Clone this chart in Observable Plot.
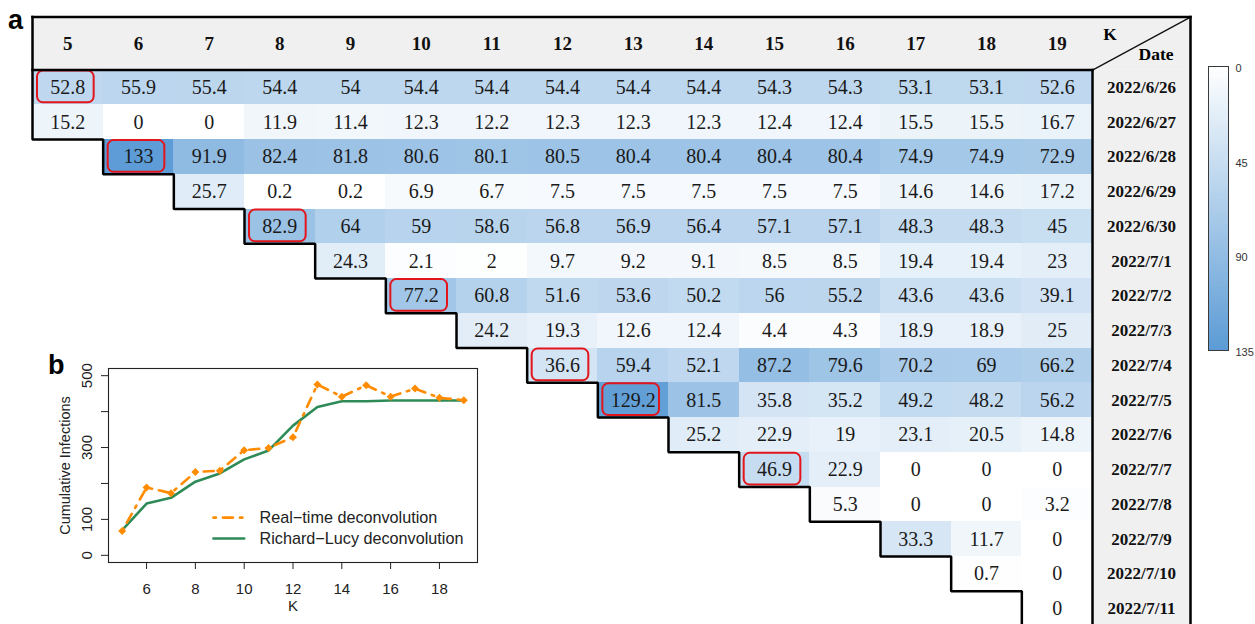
<!DOCTYPE html>
<html><head><meta charset="utf-8">
<script src="https://cdn.jsdelivr.net/npm/d3@7"></script>
<script src="https://cdn.jsdelivr.net/npm/@observablehq/plot@0.6"></script>
<style>
body{margin:0;background:#fff;}
#wrap{position:relative;width:1255px;height:624px;overflow:hidden;}
.abs{position:absolute;}
.panel{position:absolute;font:bold 27px "Liberation Sans",Arial,sans-serif;line-height:1;color:#000;}
</style></head><body>
<div id="wrap">
  <div id="main" class="abs" style="left:0;top:0"></div>
  <div id="inset" class="abs" style="left:40px;top:340px"></div>
  <div id="legend" class="abs" style="left:1195px;top:50px"></div>
  <div class="panel" style="left:8px;top:7px">a</div>
  <div class="panel" style="left:48px;top:352px">b</div>
</div>
<script>
// ---------- data ----------
const kValues = [5,6,7,8,9,10,11,12,13,14,15,16,17,18,19];
const dates = ["2022/6/26","2022/6/27","2022/6/28","2022/6/29","2022/6/30","2022/7/1","2022/7/2","2022/7/3",
               "2022/7/4","2022/7/5","2022/7/6","2022/7/7","2022/7/8","2022/7/9","2022/7/10","2022/7/11"];
const rowFirstK = [5,5,6,7,8,9,10,11,12,13,14,15,16,17,18,19];
const cellValues = [
  [52.8,55.9,55.4,54.4,54,54.4,54.4,54.4,54.4,54.4,54.3,54.3,53.1,53.1,52.6],
  [15.2,0,0,11.9,11.4,12.3,12.2,12.3,12.3,12.3,12.4,12.4,15.5,15.5,16.7],
  [133,91.9,82.4,81.8,80.6,80.1,80.5,80.4,80.4,80.4,80.4,74.9,74.9,72.9],
  [25.7,0.2,0.2,6.9,6.7,7.5,7.5,7.5,7.5,7.5,14.6,14.6,17.2],
  [82.9,64,59,58.6,56.8,56.9,56.4,57.1,57.1,48.3,48.3,45],
  [24.3,2.1,2,9.7,9.2,9.1,8.5,8.5,19.4,19.4,23],
  [77.2,60.8,51.6,53.6,50.2,56,55.2,43.6,43.6,39.1],
  [24.2,19.3,12.6,12.4,4.4,4.3,18.9,18.9,25],
  [36.6,59.4,52.1,87.2,79.6,70.2,69,66.2],
  [129.2,81.5,35.8,35.2,49.2,48.2,56.2],
  [25.2,22.9,19,23.1,20.5,14.8],
  [46.9,22.9,0,0,0],
  [5.3,0,0,3.2],
  [33.3,11.7,0],
  [0.7,0],
  [0]
];
const highlightK = [5,6,8,10,12,13,15];
const highlightDate = ["2022/6/26","2022/6/28","2022/6/30","2022/7/2","2022/7/4","2022/7/5","2022/7/7"];
const colorTicks = [0,45,90,135];

const insetK = [5,6,7,8,9,10,11,12,13,14,15,16,17,18,19];
const realTime = [68,188.9,173,231.8,235.7,292.5,299,328.7,475.5,441.5,473.4,441.7,464.1,438.4,431.9];
const richardLucy = [70,144,160,205,228,267,292,361,413,429,429,431,431,431,431];
const insetXTicks = [6,8,10,12,14,16,18];
const insetYTicks = [0,100,200,300,400,500];
const insetYLabels = [0,100,300,500];
const seriesNames = ["Real\u2212time deconvolution","Richard\u2212Lucy deconvolution"];

// ---------- derived tables ----------
const colOf = k => kValues.indexOf(k);
const cells = [];
cellValues.forEach((row, r) => row.forEach((v, j) => cells.push({r, c: colOf(rowFirstK[r]) + j, v})));
const highlights = highlightK.map((k, i) => ({c: colOf(k), r: dates.indexOf(highlightDate[i])}));

const H = 53/34.75;      // header height (row units)
const DW = 98/70.667;    // date column width (column units)
const nR = dates.length, nC = kValues.length;

// staircase border
const stair = [[0, -H]];
for (let r = 0; r < nR - 1; r++) {
  const s0 = colOf(rowFirstK[r]), s1 = colOf(rowFirstK[r+1]);
  if (s1 !== s0) { stair.push([s0, r+1]); stair.push([s1, r+1]); }
}
stair.push([colOf(rowFirstK[nR-1]), nR + 1]);

const borders = [];
const addPath = (z, pts) => pts.forEach(p => borders.push({z, x: p[0], y: p[1]}));
addPath("top", [[0,-H],[nC+DW,-H]]);
addPath("right", [[nC+DW,-H],[nC+DW,nR+1]]);
addPath("hdr", [[0,0],[nC,0]]);
addPath("sep", [[nC,0],[nC,nR+1]]);
addPath("stair", stair);
const diag = [{x:nC,y:0},{x:nC+DW,y:-H}];

const colorScale = {type:"linear", domain:[0,135], range:["#ffffff","#5b9bd5"], interpolate:"rgb"};
const serif = "'Liberation Serif','Times New Roman',serif";
const sans = "'Liberation Sans',Arial,sans-serif";

// ---------- main heat table ----------
const main = Plot.plot({
  width: 1255, height: 624, margin: 0,
  x: {type:"linear", domain:[0, nC], range:[32, 1092], axis:null},
  y: {type:"linear", domain:[0, nR], range:[69.6, 625.6], axis:null},
  color: colorScale,
  style: {background:"transparent"},
  marks: [
    Plot.rect([0], {x1: () => 0, x2: () => nC + DW, y1: () => -H, y2: () => 0, fill: "#f0f0f0"}),
    Plot.rect([0], {x1: () => nC, x2: () => nC + DW, y1: () => 0, y2: () => nR + 1, fill: "#f0f0f0"}),
    Plot.rect(cells, {x1: d => d.c, x2: d => d.c + 1, y1: d => d.r, y2: d => d.r + 1, fill: "v", shapeRendering: "crispEdges"}),
    Plot.text(cells, {x: d => d.c + 0.5, y: d => d.r + 0.5, text: d => String(d.v), fontFamily: serif, fontSize: 20, fill: "#1a1a1a"}),
    Plot.rect(highlights, {x1: d => d.c, x2: d => d.c + 1, y1: d => d.r, y2: d => d.r + 1,
      insetLeft: 5, insetRight: 9, insetTop: 1, insetBottom: 2, rx: 6, fill: "none", stroke: "#e3151b", strokeWidth: 2}),
    Plot.text(kValues, {x: (d, i) => i + 0.5, y: () => -H/2, text: d => String(d), fontFamily: serif, fontWeight: "bold", fontSize: 19, fill: "#111"}),
    Plot.text(dates, {x: () => nC + DW/2, y: (d, i) => i + 0.5, text: d => d, fontFamily: serif, fontWeight: "bold", fontSize: 17, fill: "#111"}),
    Plot.text(["K"], {x: () => nC + 0.25, y: () => -1.03, text: d => d, fontFamily: serif, fontWeight: "bold", fontSize: 17.5}),
    Plot.text(["Date"], {x: () => nC + 0.9, y: () => -0.45, text: d => d, fontFamily: serif, fontWeight: "bold", fontSize: 17.5}),
    Plot.line(diag, {x: "x", y: "y", stroke: "#111", strokeWidth: 1.3}),
    Plot.line(borders, {x: "x", y: "y", z: "z", stroke: "#000", strokeWidth: 2.5, strokeLinecap: "square", strokeLinejoin: "miter"})
  ]
});
document.getElementById("main").appendChild(main);

// ---------- inset (panel b) ----------
const rtData = insetK.map((k, i) => ({k, v: realTime[i]}));
const rlData = insetK.map((k, i) => ({k, v: richardLucy[i]}));
const legendRows = [
  {name: seriesNames[0], y: 105, s: 0},
  {name: seriesNames[1], y: 47, s: 1}
];
const legendLines = legendRows.flatMap(d => [{k: 8.74, v: d.y, s: d.s}, {k: 10.0, v: d.y, s: d.s}]);
const inset = Plot.plot({
  width: 450, height: 284, marginLeft: 68, marginRight: 13, marginTop: 28, marginBottom: 62,
  x: {domain:[4.44, 19.56]},
  y: {domain:[-20, 520]},
  style: {background:"transparent", fontFamily: sans, fontSize: "14.5px", color: "#222"},
  marks: [
    Plot.frame({stroke: "#222", strokeWidth: 1.1}),
    Plot.axisX({ticks: insetXTicks, tickSize: 7, tickPadding: 14, tickFormat: d => String(d), label: null, fontSize: 15}),
    Plot.axisY({ticks: insetYTicks, tickSize: 7, tickFormat: () => "", label: null}),
    Plot.text(insetYLabels, {y: d => d, text: d => String(d), frameAnchor: "left", textAnchor: "middle", dx: -21, rotate: -90, fontSize: 15, fill: "#222"}),
    Plot.text(["Cumulative Infections"], {text: d => d, frameAnchor: "left", textAnchor: "middle", dx: -43, rotate: -90, fontSize: 14.5, fill: "#222"}),
    Plot.text(["K"], {text: d => d, frameAnchor: "bottom", dy: 48, fontSize: 15, fill: "#222"}),
    Plot.line(rlData, {x: "k", y: "v", stroke: "#2e8b57", strokeWidth: 2.6}),
    Plot.line(rtData, {x: "k", y: "v", stroke: "#ff8c00", strokeWidth: 2.6, strokeDasharray: "2.5,7,10,7"}),
    Plot.dot(rtData, {x: "k", y: "v", symbol: "diamond2", r: 3.6, fill: "#ff8c00"}),
    Plot.line(legendLines.filter(d => d.s === 0), {x: "k", y: "v", stroke: "#ff8c00", strokeWidth: 2.6, strokeDasharray: "2.5,7,10,7"}),
    Plot.line(legendLines.filter(d => d.s === 1), {x: "k", y: "v", stroke: "#2e8b57", strokeWidth: 2.6}),
    Plot.text(legendRows, {x: () => 10.63, y: "y", text: "name", textAnchor: "start", fontSize: 16.2, fill: "#222"})
  ]
});
document.getElementById("inset").appendChild(inset);

// ---------- color legend ----------
const ramp = d3.range(0, 135, 1);
const legend = Plot.plot({
  width: 60, height: 320, marginLeft: 13, marginRight: 27, marginTop: 16, marginBottom: 20,
  x: {domain:[0,1], axis:null},
  y: {domain:[0,135], range:[16,300], axis:null},
  color: colorScale,
  style: {background:"transparent", fontFamily: sans},
  marks: [
    Plot.rect(ramp, {x1: () => 0, x2: () => 1, y1: d => d, y2: d => d + 1, fill: d => d + 0.5, shapeRendering: "crispEdges"}),
    Plot.frame({stroke: "#3a3a3a", strokeWidth: 1}),
    Plot.text(colorTicks, {y: d => d, text: d => String(d), frameAnchor: "right", dx: 7, dy: 2, textAnchor: "start", fontSize: 11, fill: "#333"})
  ]
});
document.getElementById("legend").appendChild(legend);
</script>
</body></html>
